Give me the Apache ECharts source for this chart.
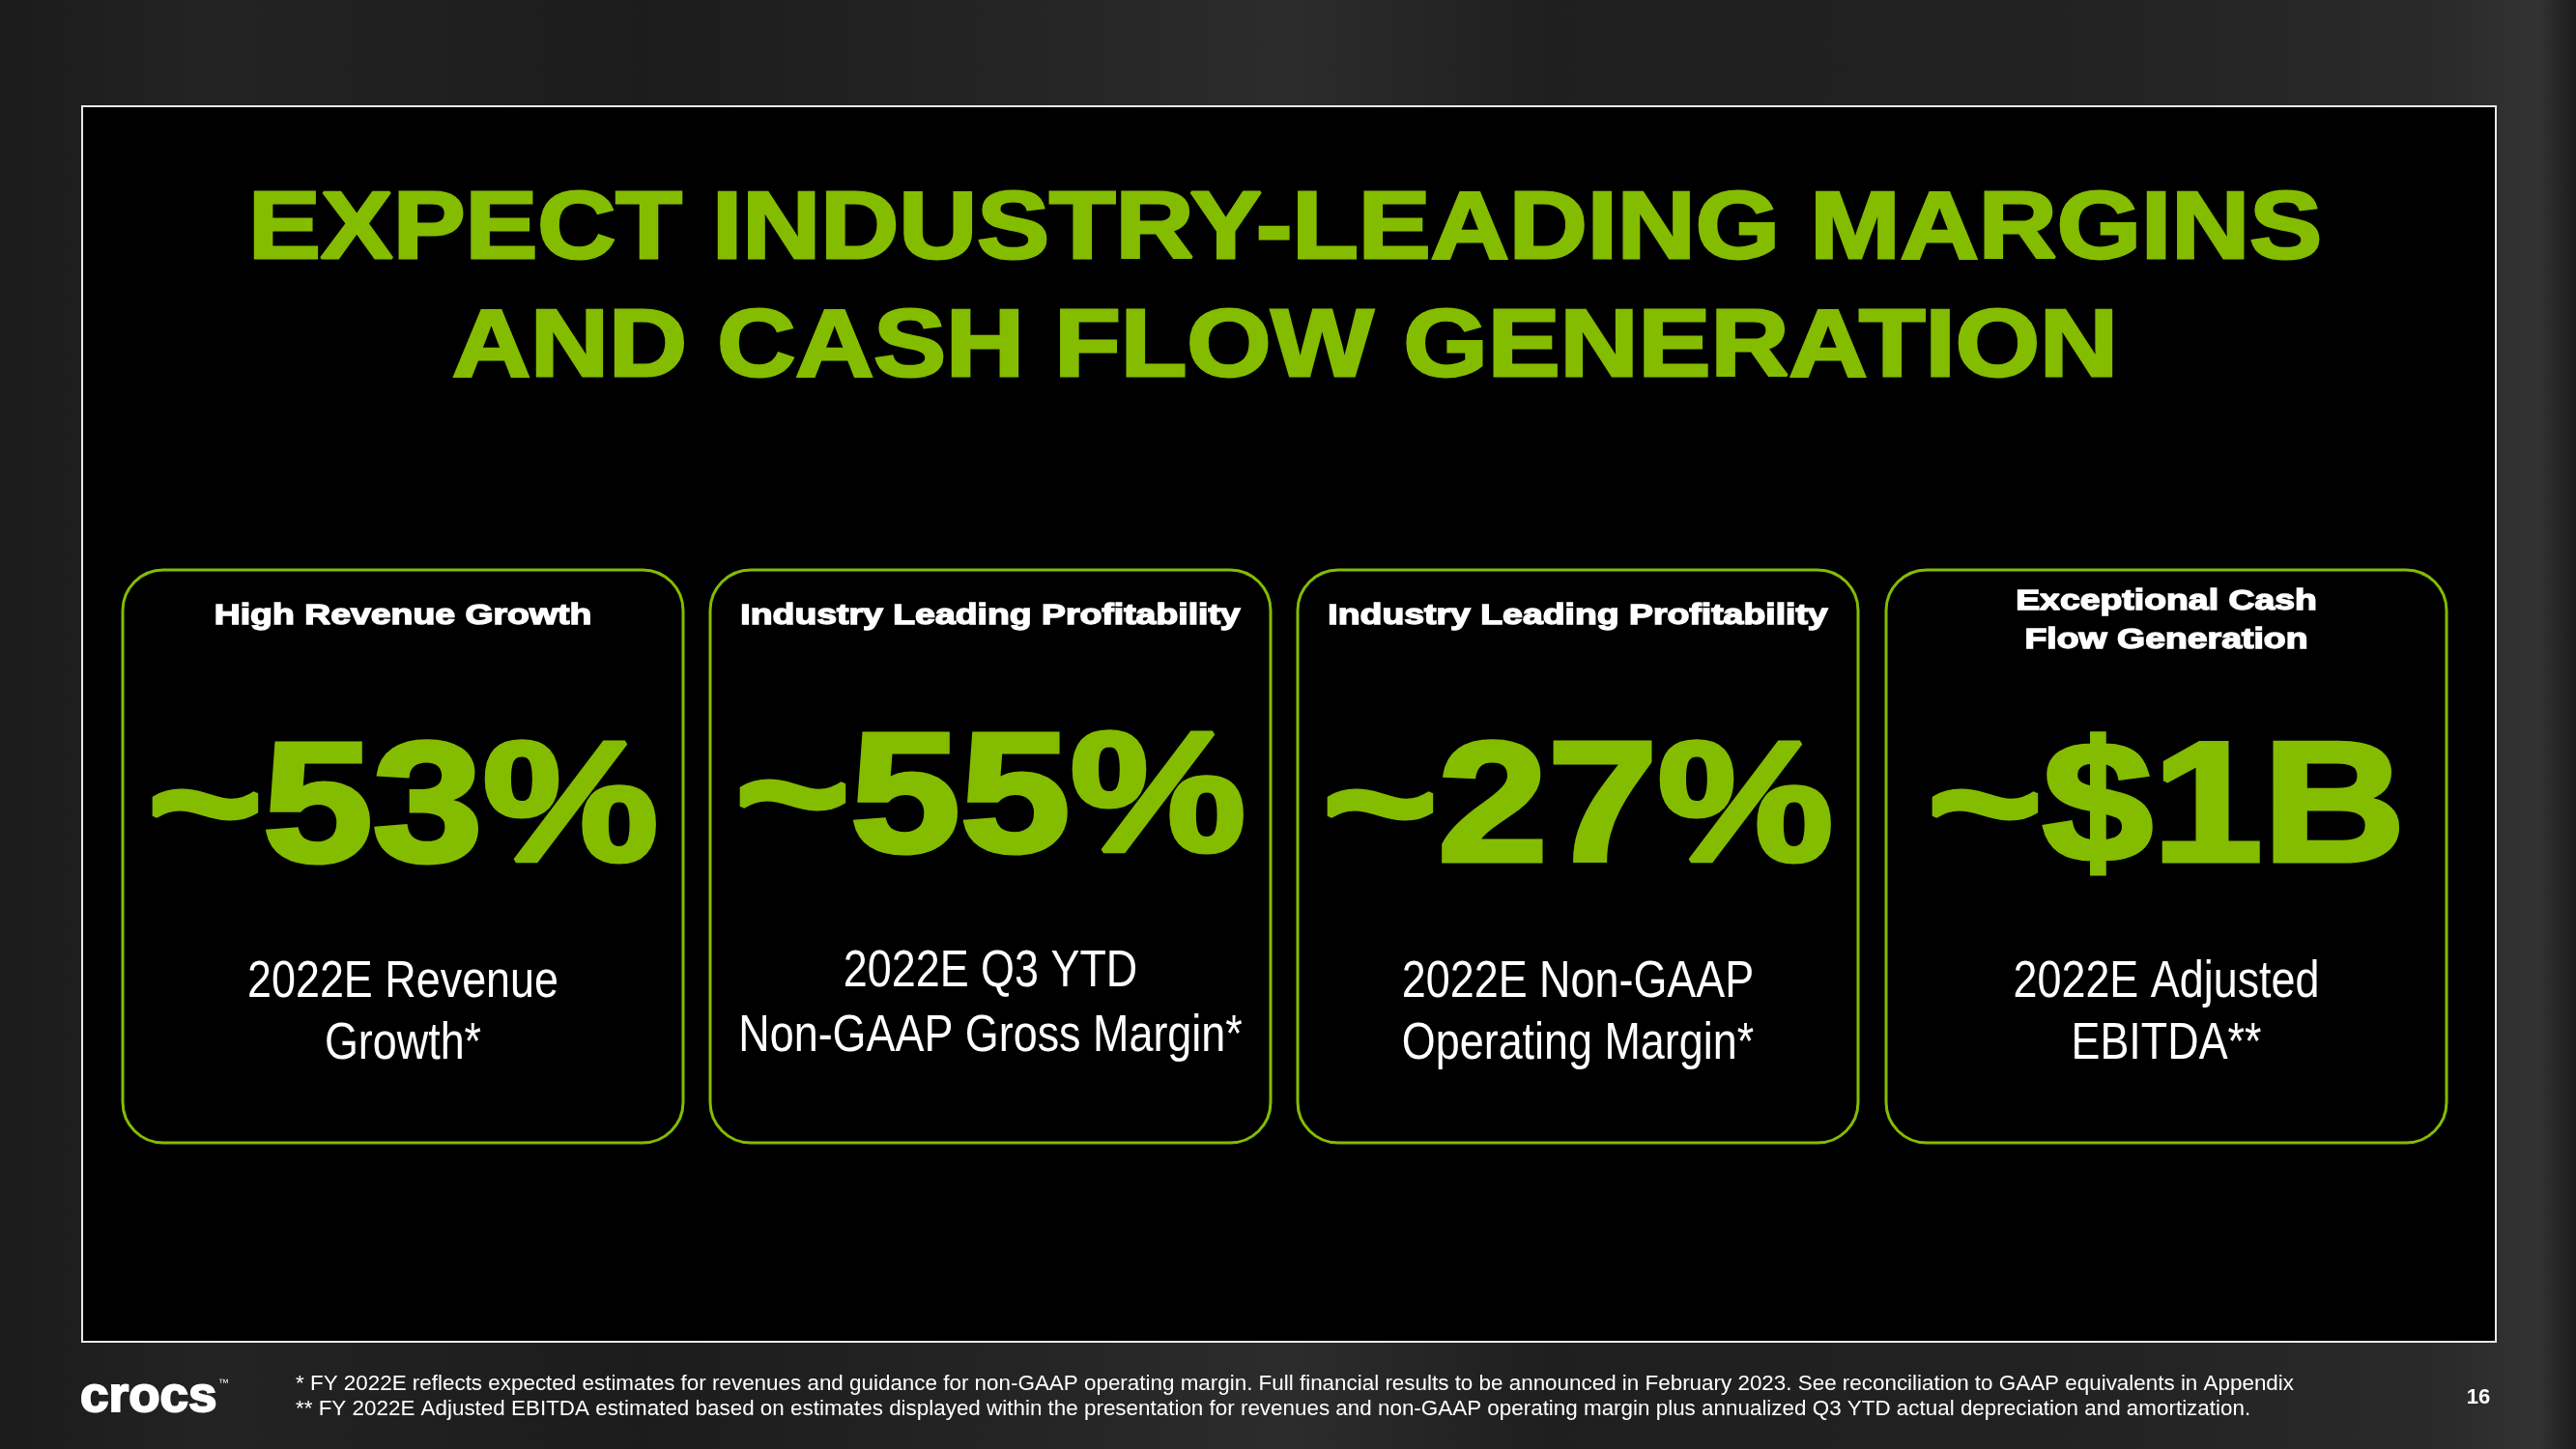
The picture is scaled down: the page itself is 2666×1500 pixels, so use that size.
<!DOCTYPE html>
<html>
<head>
<meta charset="utf-8">
<script src="https://cdn.jsdelivr.net/npm/echarts@6/dist/echarts.min.js"></script>
<style>
html,body{margin:0;padding:0;background:#1d1d1d;}
#c{width:2666px;height:1500px;}
</style>
</head>
<body>
<div id="c"></div>
<script>
// ---- content ----
const titleLines = ['EXPECT INDUSTRY-LEADING MARGINS', 'AND CASH FLOW GENERATION'];
const cardHeaders = [
  ['High Revenue Growth'],
  ['Industry Leading Profitability'],
  ['Industry Leading Profitability'],
  ['Exceptional Cash', 'Flow Generation']
];
const cardValues = ['~53%', '~55%', '~27%', '~$1B'];
const cardDescriptions = [
  ['2022E Revenue', 'Growth*'],
  ['2022E Q3 YTD', 'Non-GAAP Gross Margin*'],
  ['2022E Non-GAAP', 'Operating Margin*'],
  ['2022E Adjusted', 'EBITDA**']
];
const footnotes = [
  '* FY 2022E reflects expected estimates for revenues and guidance for non-GAAP operating margin. Full financial results to be announced in February 2023. See reconciliation to GAAP equivalents in Appendix',
  '** FY 2022E Adjusted EBITDA estimated based on estimates displayed within the presentation for revenues and non-GAAP operating margin plus annualized Q3 YTD actual depreciation and amortization.'
];
const logoText = 'crocs';
const pageNumber = '16';

// ---- layout ----
const W = 2666, H = 1500;
const GREEN = '#84bc00';
const FAM = '"Liberation Sans", Arial, Helvetica, sans-serif';
const panel = {x: 85, y: 110, w: 2498, h: 1279};
const cardLeft = [127, 735, 1343, 1952];
const cardTop = 590, cardW = 580, cardH = 593, cardR = 42;
const valueY = [842, 832, 842, 842];
const descY = [[1017, 1081], [1006, 1073], [1017, 1081], [1017, 1081]];
const headerY = [[638], [638], [638], [623, 663]];

const mctx = document.createElement('canvas').getContext('2d');
function measure(text, font) { mctx.font = font; return mctx.measureText(text).width; }
function font(weight, size) { return weight + ' ' + size + 'px ' + FAM; }

const titleSize = 99, titleStroke = 3;
const headerSize = 30, headerStroke = 1.4;
const valueSize = 176, valueStroke = 5;
const descSize = 53;
const footSize = 22;

const titleScale = (2149 - titleStroke) / measure(titleLines[0], font('bold', titleSize));
const headerScale = (392 - headerStroke) / measure(cardHeaders[0][0], font('bold', headerSize));
const valueScale = (534 - valueStroke) / measure(cardValues[0], font('bold', valueSize));
const descScale = 322 / measure(cardDescriptions[0][0], font('normal', descSize));
const footScale = 2068 / measure(footnotes[0], font('normal', footSize));

function txt(text, x, y, size, weight, color, sx, align, stroke) {
  align = align || 'center';
  return {
    type: 'text', x: x, y: y, scaleX: sx, scaleY: 1, silent: true, z: 10,
    style: {
      text: text, font: font(weight, size), fill: color,
      align: align, verticalAlign: 'middle',
      textAlign: align, textVerticalAlign: 'middle',
      stroke: stroke ? color : null, lineWidth: stroke || 0
    }
  };
}

const els = [];
// background
els.push({
  type: 'rect', shape: {x: 0, y: 0, width: W, height: H}, silent: true, z: 0,
  style: {fill: new echarts.graphic.LinearGradient(0, 0, 1, 0, [
    {offset: 0, color: '#1b1b1b'}, {offset: 0.08, color: '#232323'},
    {offset: 0.25, color: '#1c1c1c'}, {offset: 0.42, color: '#262626'},
    {offset: 0.5, color: '#2c2c2c'}, {offset: 0.6, color: '#1f1f1f'},
    {offset: 0.8, color: '#222222'}, {offset: 0.95, color: '#2a2a2a'},
    {offset: 0.985, color: '#333333'}, {offset: 1, color: '#1c1c1c'}
  ])}
});
// panel
els.push({
  type: 'rect', shape: {x: panel.x, y: panel.y, width: panel.w, height: panel.h}, silent: true, z: 1,
  style: {fill: '#000000', stroke: '#e8e8e8', lineWidth: 2}
});
// title
const titleYs = [240, 362];
titleLines.forEach((t, i) => els.push(txt(t, 1330, titleYs[i], titleSize, 'bold', GREEN, titleScale, 'center', titleStroke)));

// cards
cardValues.forEach((v, i) => {
  const cx = cardLeft[i] + cardW / 2;
  els.push({
    type: 'rect', shape: {x: cardLeft[i], y: cardTop, width: cardW, height: cardH, r: cardR},
    silent: true, z: 5, style: {fill: '#000000', stroke: GREEN, lineWidth: 3}
  });
  cardHeaders[i].forEach((h, j) => els.push(txt(h, cx, headerY[i][j], headerSize, 'bold', '#ffffff', headerScale, 'center', headerStroke)));
  els.push(txt(v, cx, valueY[i], valueSize, 'bold', GREEN, valueScale, 'center', valueStroke));
  cardDescriptions[i].forEach((d, j) => els.push(txt(d, cx, descY[i][j], descSize, 'normal', '#ffffff', descScale, 'center')));
});

// footer
els.push(txt(logoText, 83, 1447, 52, 'bold', '#ffffff', 1.02, 'left', 2));
els.push(txt('™', 226, 1432, 11, 'normal', '#ffffff', 1, 'left'));
footnotes.forEach((f, i) => els.push(txt(f, 306, [1433, 1459][i], footSize, 'normal', '#ffffff', footScale, 'left')));
els.push(txt(pageNumber, 2565, 1447, 22, 'bold', '#ffffff', 1, 'center'));

const chart = echarts.init(document.getElementById('c'), null, {renderer: 'canvas', width: W, height: H});
chart.setOption({
  backgroundColor: '#1d1d1d',
  animation: false,
  graphic: {elements: els}
});
</script>
</body>
</html>
